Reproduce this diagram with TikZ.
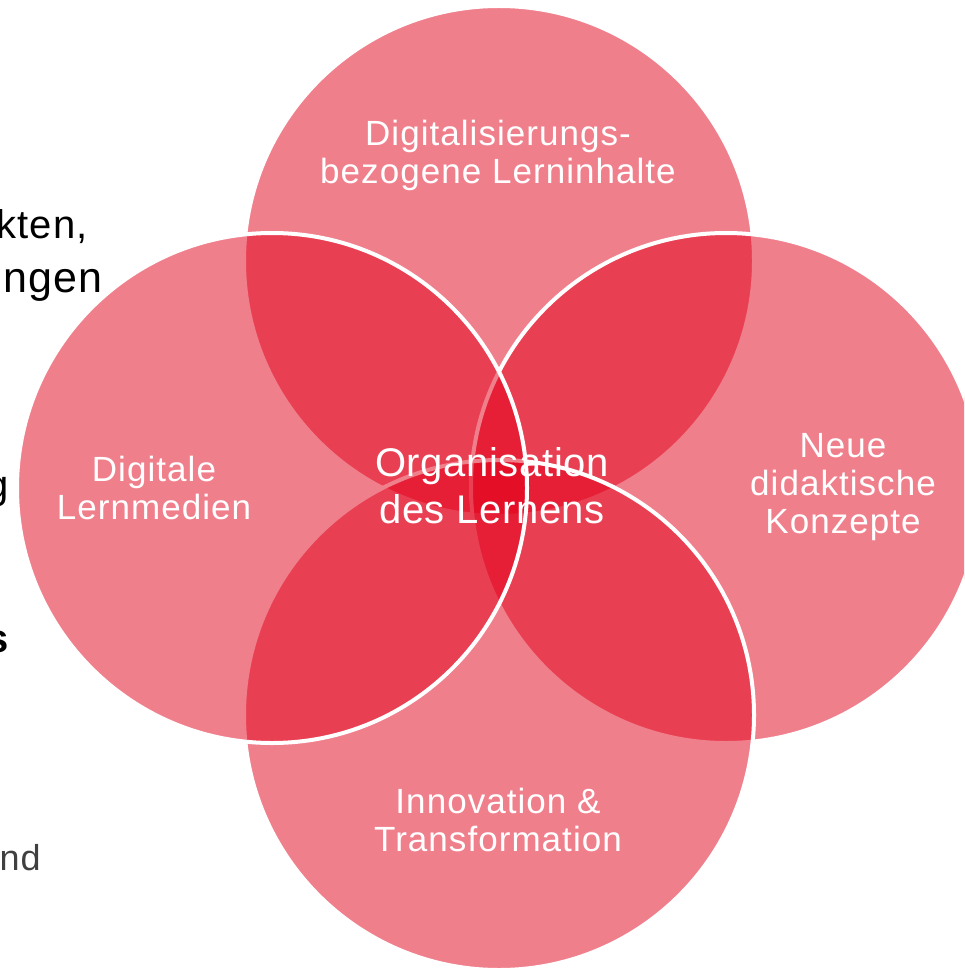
\documentclass[tikz,border=0pt]{standalone}
\usepackage{fontspec}
\setmainfont{Liberation Sans}
\newfontfamily\labelfont[LetterSpace=3]{Liberation Sans}
\newfontfamily\centrefont[LetterSpace=1.5]{Liberation Sans}
\newfontfamily\bodyfont[LetterSpace=3]{Liberation Sans}
\definecolor{vennred}{RGB}{226,0,26}
\definecolor{bodygray}{RGB}{64,64,64}
\begin{document}
\begin{tikzpicture}[x=1pt,y=-1pt,
  venn/.style={fill=vennred,fill opacity=0.5,draw=white,draw opacity=1,line width=4pt},
  vlabel/.style={text=white,align=center,inner sep=0pt,
    font=\labelfont\fontsize{35}{38}\selectfont},
  clabel/.style={text=white,align=center,inner sep=0pt,
    font=\centrefont\fontsize{40}{47}\selectfont},
  bodytext/.style={inner sep=0pt,anchor=base east,text=black,
    font=\bodyfont\fontsize{40}{46}\selectfont}]
\useasboundingbox (0,0) rectangle (964,968);
\clip (0,0) rectangle (964,968);

% slide text lying behind the diagram
\node[bodytext] (t1) at (88,238) {kten,};
\node[bodytext,font=\bodyfont\fontsize{43}{46}\selectfont] (t2) at (103,292) {ngen};
\node[bodytext] (t3) at (9,498) {g};
\node[bodytext,font=\bodyfont\bfseries\fontsize{40}{46}\selectfont] (t4) at (9,652) {s};
\node[bodytext,text=bodygray,font=\bodyfont\fontsize{36}{40}\selectfont] (t5) at (41,870) {nd};

% the four circles, in stacking order
\coordinate (ctop) at (499,261);
\coordinate (cright) at (726,488);
\coordinate (cbottom) at (499,715);
\coordinate (cleft) at (272,488);
\path[venn] (ctop) circle [radius=255];
\path[venn] (cright) circle [radius=255];
\path[venn] (cbottom) circle [radius=255];
\path[venn] (cleft) circle [radius=255];

% labels
\node[vlabel] (ltop) at (498,155) {Digitalisierungs-\\bezogene Lerninhalte};
\node[vlabel] (lleft) at (154,488) {Digitale\\Lernmedien};
\node[vlabel] (lright) at (843,487) {Neue\\didaktische\\Konzepte};
\node[vlabel] (lbottom) at (498,820) {Innovation \&\\Transformation};
\node[clabel] (lcenter) at (492,486) {Organisation\\des Lernens};
\end{tikzpicture}
\end{document}
